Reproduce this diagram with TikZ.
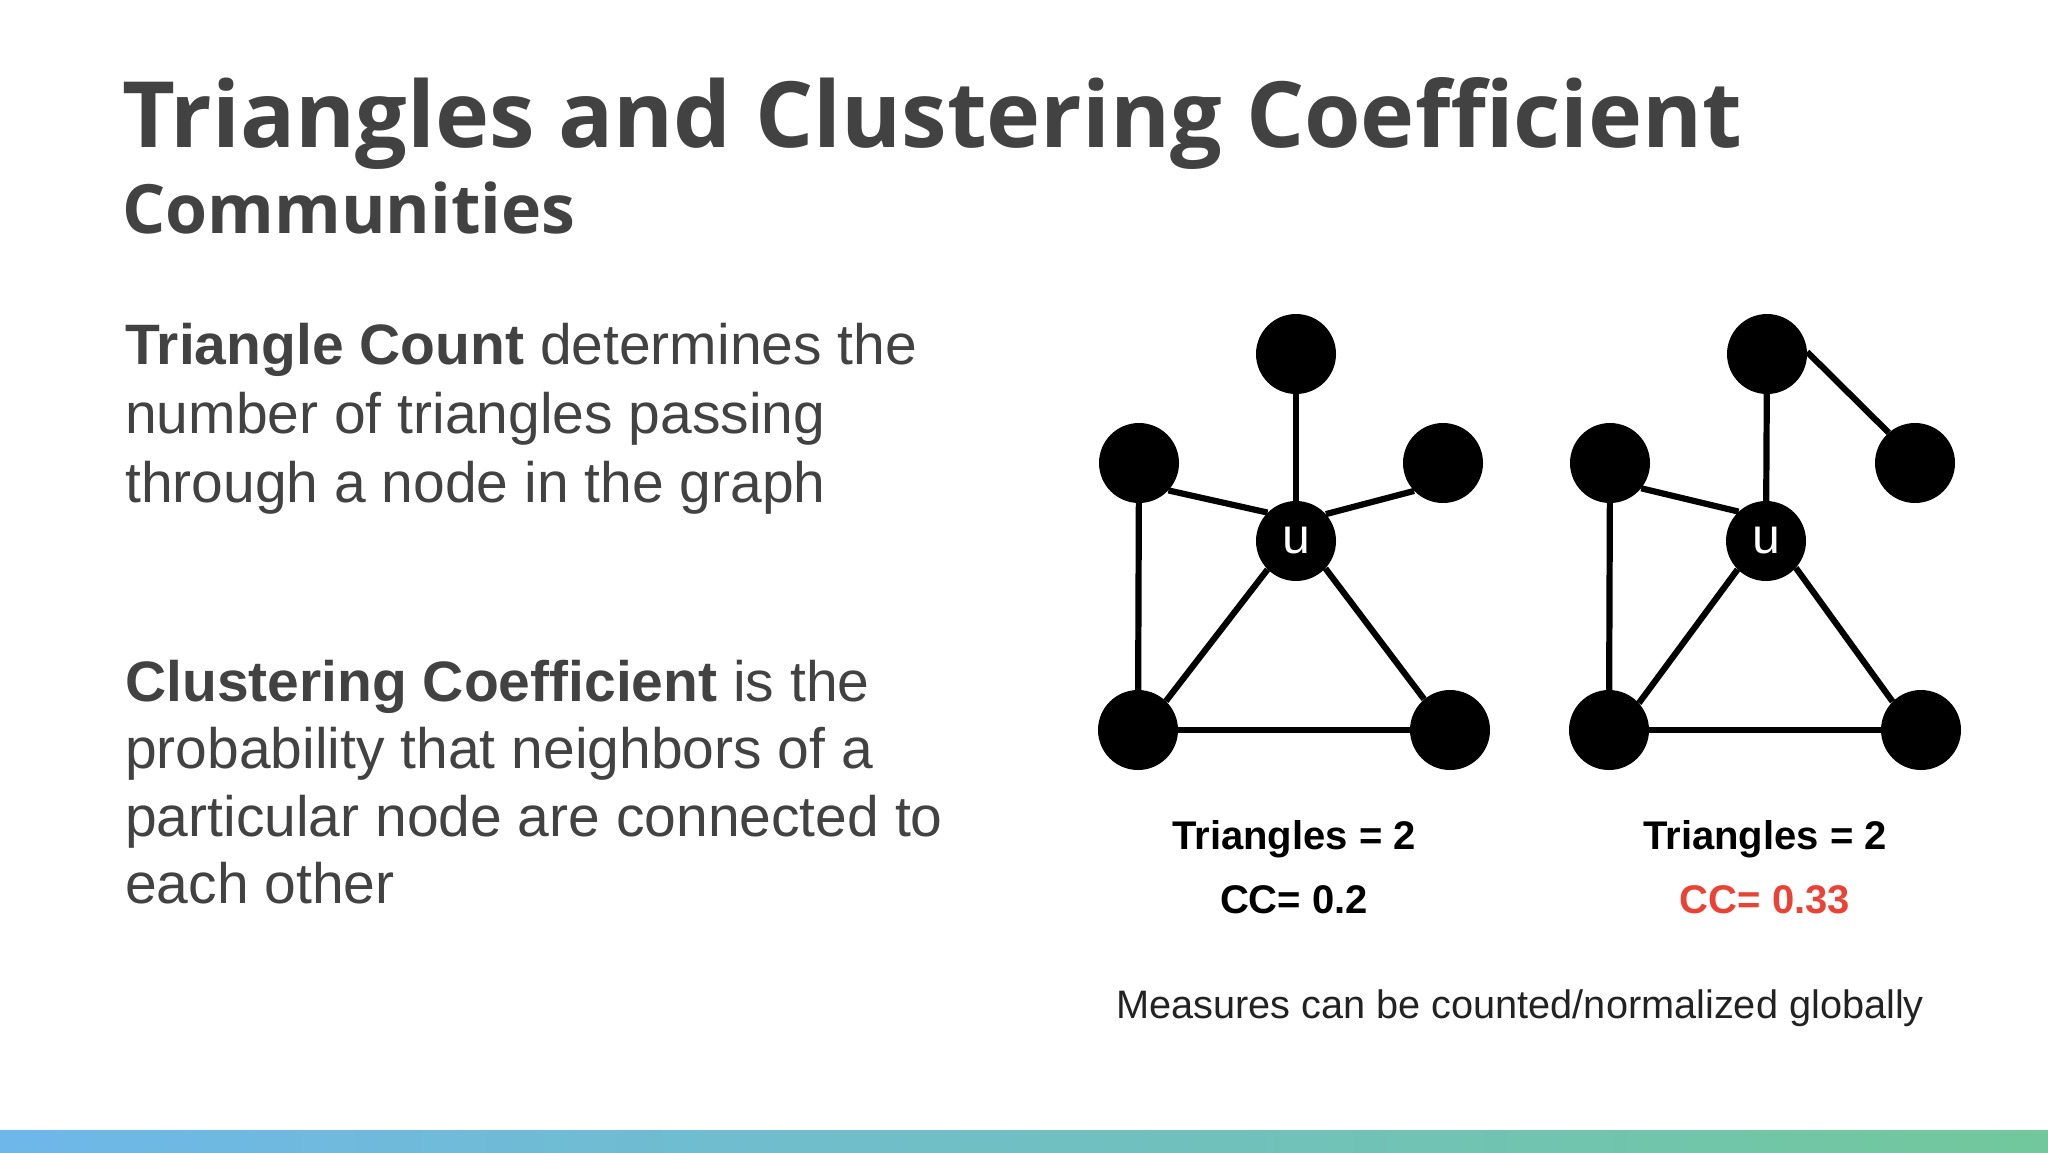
\documentclass[tikz,border=0pt]{standalone}
\usepackage{fontspec}
\setmainfont{Liberation Sans}
\newfontfamily\headfont{Open Sans}
\usepackage{tikz}
\usetikzlibrary{positioning}
\definecolor{SlideGray}{RGB}{66, 66, 66}
\definecolor{NoteGray}{RGB}{34, 34, 34}
\definecolor{CCRed}{RGB}{234, 67, 53}
\definecolor{BarBlue}{RGB}{110, 183, 234}
\definecolor{BarGreen}{RGB}{114, 200, 156}
\tikzset{
  vertex/.style={circle, fill=black, minimum size=80pt, inner sep=0pt, text=white, font=\fontsize{50}{50}\selectfont},
  edge/.style={line width=6.2pt},
  line/.style={anchor=base west, inner sep=0pt, text=SlideGray, font=\fontsize{57}{68}\selectfont},
  stat/.style={anchor=base, inner sep=0pt, font=\fontsize{40}{40}\selectfont\bfseries}
}

\begin{document}
\begin{tikzpicture}[x=1pt, y=-1pt]
    % Background and bottom bar
    \fill[white] (0,0) rectangle (2048,1152);
    \shade[left color=BarBlue, right color=BarGreen] (0,1130) rectangle (2048,1152);

    % Title
    \node[anchor=base west, inner sep=0pt, text=SlideGray] (title) at (122,147)
      {\fontsize{91.5}{91.5}\selectfont\headfont\bfseries Triangles and Clustering Coefficient};
    \node[anchor=base west, inner sep=0pt, text=SlideGray] (subtitle) at (122,233)
      {\fontsize{68}{68}\selectfont\headfont\bfseries Communities};

    % Text
    \node[line] (t1) at (125,364) {\textbf{Triangle Count} determines the};
    \node[line] (t2) at (125,433) {number of triangles passing};
    \node[line] (t3) at (125,502) {through a node in the graph};
    \node[line] (c1) at (125,701) {\textbf{Clustering Coefficient} is the};
    \node[line] (c2) at (125,768) {probability that neighbors of a};
    \node[line] (c3) at (125,836) {particular node are connected to};
    \node[line] (c4) at (125,903) {each other};

    % Left graph
    \node[vertex] (lt) at (1296,354) {};
    \node[vertex] (lul) at (1139,463) {};
    \node[vertex] (lur) at (1443,463) {};
    \node[vertex] (lu) at (1296,541) {u};
    \node[vertex] (lbl) at (1138,730) {};
    \node[vertex] (lbr) at (1450,730) {};
    \draw[edge] (lt) -- (lu);
    \draw[edge] (lul.-43) -- (lu.135);
    \draw[edge] (lur.-136) -- (lu.42);
    \draw[edge] (lul) -- (lbl);
    \draw[edge] (lu.-135) -- (lbl.46);
    \draw[edge] (lu.-43) -- (lbr.130);
    \draw[edge] (lbl) -- (lbr);

    % Right graph
    \node[vertex] (rt) at (1767,354) {};
    \node[vertex] (rur) at (1915,463) {};
    \node[vertex] (rul) at (1610,463) {};
    \node[vertex] (ru) at (1766,541) {u};
    \node[vertex] (rbl) at (1609,730) {};
    \node[vertex] (rbr) at (1921,730) {};
    \draw[edge] (rt) -- (ru);
    \draw[edge] (rt.3) -- (rur.131);
    \draw[edge] (rul.-39) -- (ru.133);
    \draw[edge] (rul) -- (rbl);
    \draw[edge] (ru.-135) -- (rbl.42);
    \draw[edge] (ru.-42) -- (rbr.135);
    \draw[edge] (rbl) -- (rbr);

    % Counts
    \node[stat] (ltri) at (1294,849) {Triangles = 2};
    \node[stat] (lcc) at (1294,913) {CC= 0.2};
    \node[stat] (rtri) at (1765,849) {Triangles = 2};
    \node[stat, text=CCRed] (rcc) at (1765,913) {CC= 0.33};

    % Note
    \node[anchor=base west, inner sep=0pt, text=NoteGray, font=\fontsize{39.7}{40}\selectfont] (note) at (1116,1018)
      {Measures can be counted/normalized globally};
  \end{tikzpicture}
\end{document}
